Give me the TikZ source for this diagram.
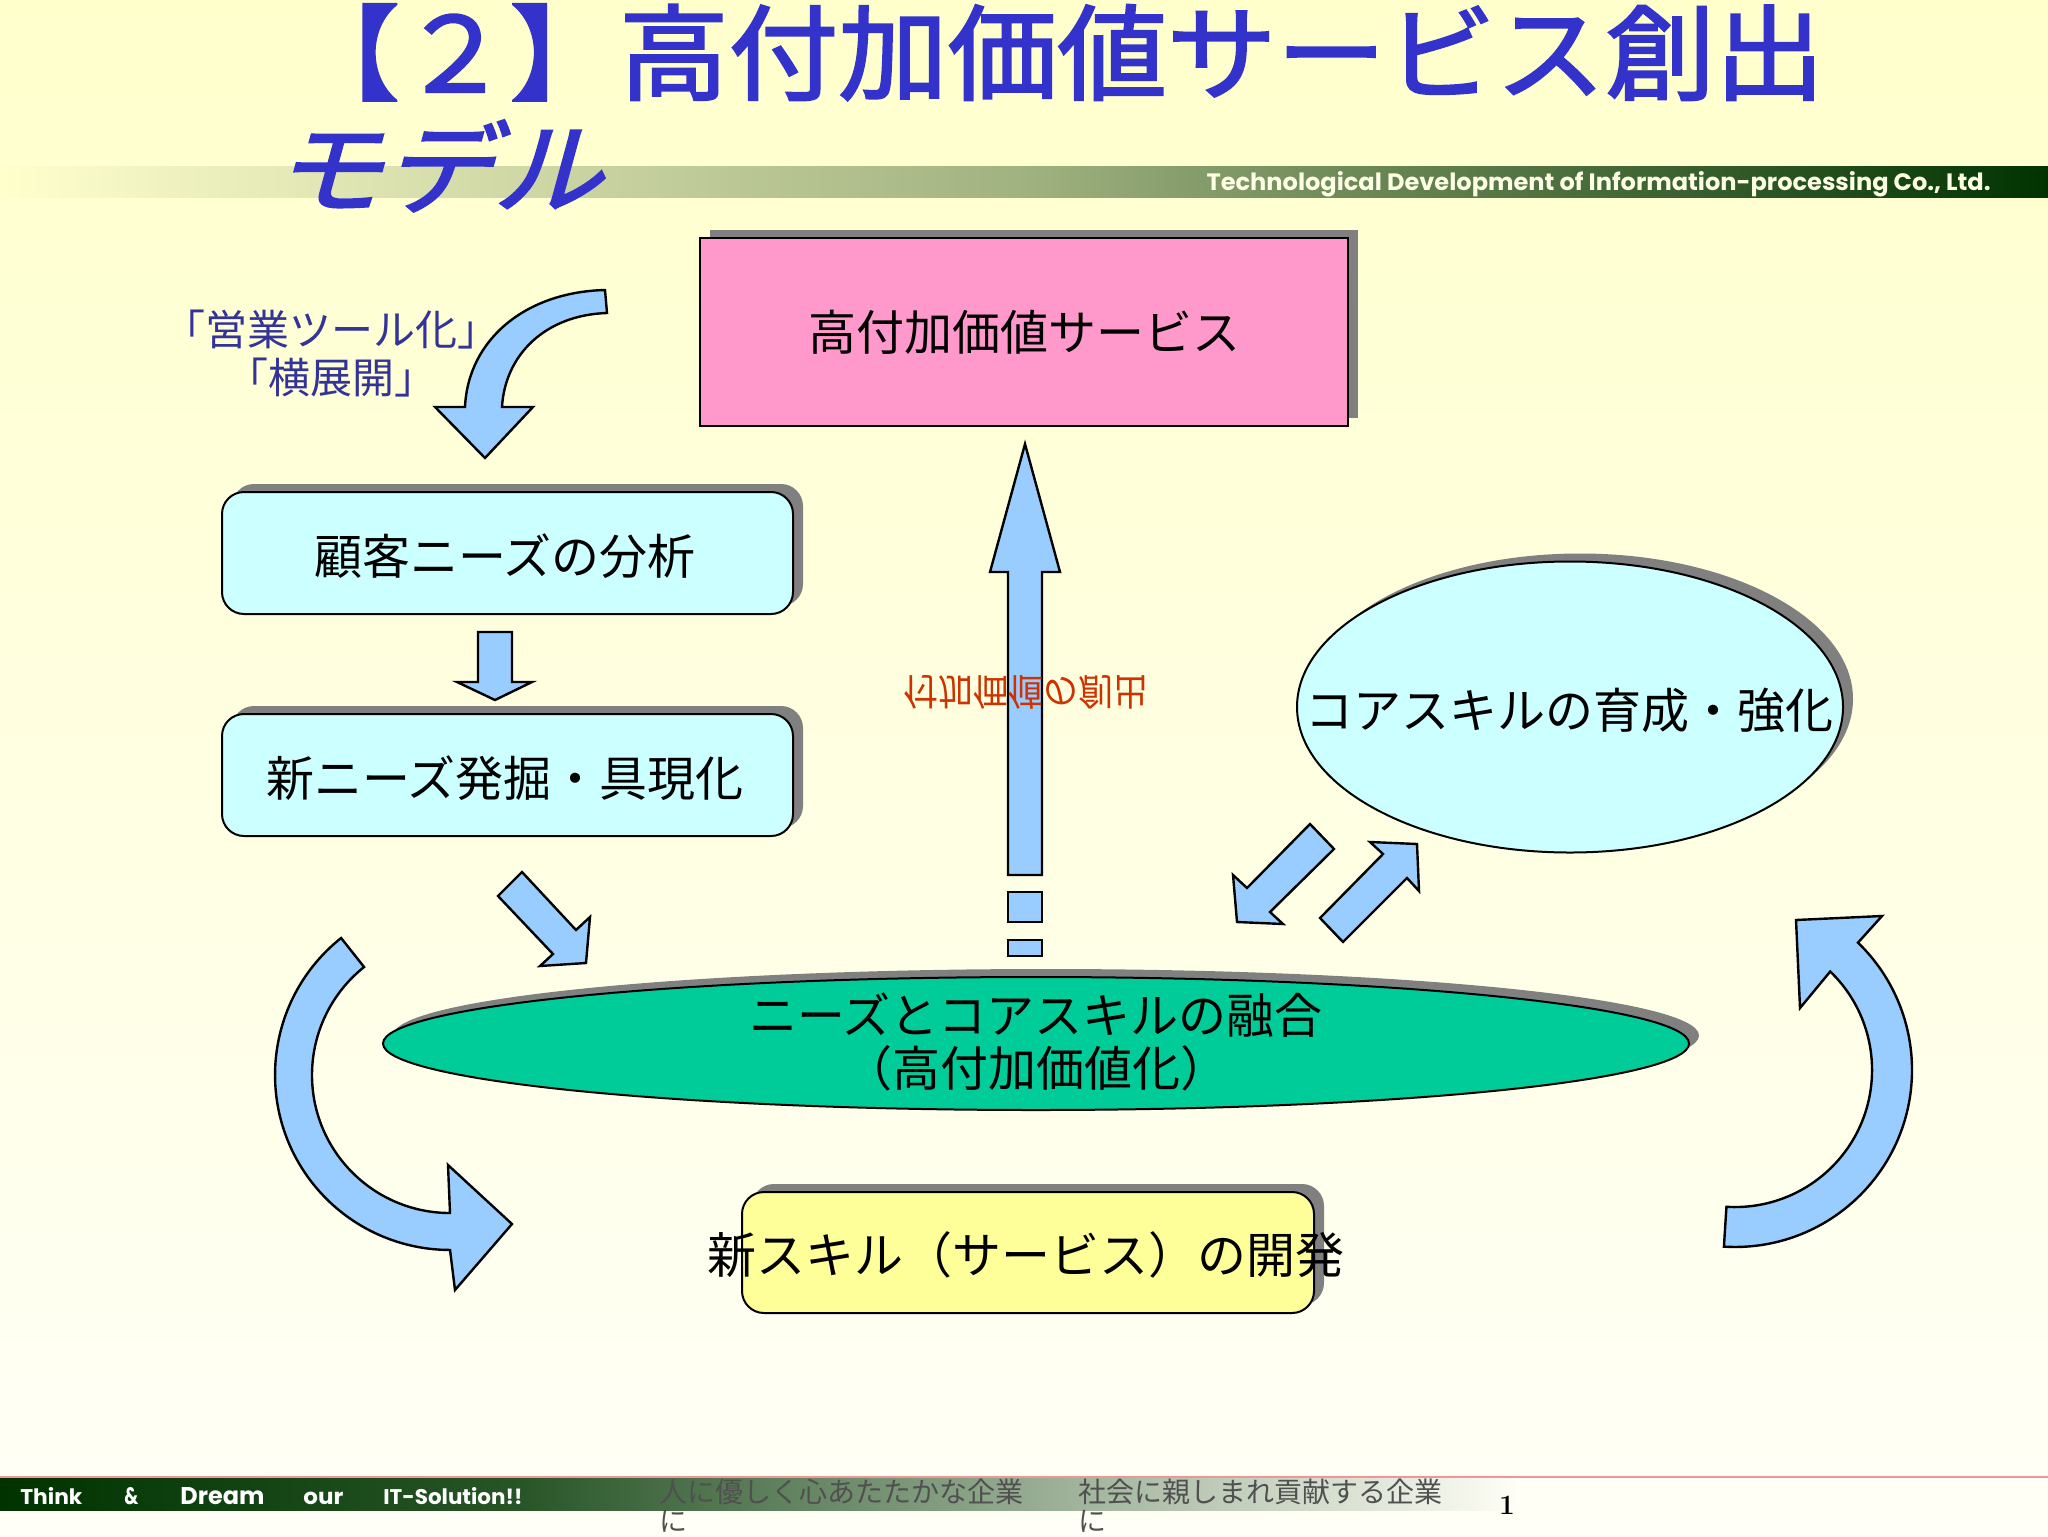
\documentclass[tikz,border=0pt]{standalone}
\usepackage{fontspec}
\usepackage{graphicx}
\usetikzlibrary{shadows,shapes.geometric}
\newfontfamily\jp{Noto Sans CJK JP}
\newfontfamily\jptitle[FakeBold=2]{Noto Sans CJK JP}
\newfontfamily\jptitlesl[FakeBold=2,FakeSlant=0.25]{Noto Sans CJK JP}
\newfontfamily\enf{Poppins}
\definecolor{bgtop}{RGB}{255,255,204}
\definecolor{bgbot}{RGB}{255,255,247}
\definecolor{titleblue}{RGB}{51,51,204}
\definecolor{labelblue}{RGB}{51,51,153}
\definecolor{redtext}{RGB}{204,51,0}
\definecolor{arrowblue}{RGB}{153,204,255}
\definecolor{cyanfill}{RGB}{204,255,255}
\definecolor{pinkfill}{RGB}{255,153,204}
\definecolor{yellowfill}{RGB}{255,255,153}
\definecolor{greenfill}{RGB}{0,204,153}
\definecolor{shadowgray}{RGB}{128,128,128}
\definecolor{darkgreen}{RGB}{0,51,0}
\definecolor{bandmid}{RGB}{160,178,128}
\definecolor{footmid}{RGB}{40,85,40}
\definecolor{bandtext}{RGB}{255,255,230}
\definecolor{pinkline}{RGB}{240,150,150}
\definecolor{footgray}{RGB}{80,80,80}
\tikzset{
  blockarrow/.style={fill=arrowblue, draw=black, line width=1.2pt, line join=miter, miter limit=10},
  shadowed/.style={drop shadow={shadow xshift=5pt, shadow yshift=4pt, opacity=1, fill=shadowgray}},
  shapebox/.style={draw=black, line width=1pt, inner sep=0pt, shadowed},
  boxtext/.style={font=\jp\fontsize{24pt}{30pt}\selectfont, text=black, inner sep=0pt},
  foot/.style={font=\enf\bfseries\fontsize{11pt}{11pt}\selectfont, text=white, inner sep=0pt, anchor=base west},
  motto/.style={anchor=base west, inner sep=0pt, text=footgray, font=\jp\fontsize{14pt}{14pt}\selectfont},
}
\begin{document}
\begin{tikzpicture}[x=0.5pt,y=-0.5pt]
\useasboundingbox (0,0) rectangle (2048,1536);
% background
\shade[top color=bgtop, bottom color=bgbot] (0,0) rectangle (2048,1536);
% top band
\shade[left color=bgtop, right color=bandmid] (0,166) rectangle (1026,197);
\shade[left color=bandmid, right color=darkgreen] (1024,166) rectangle (2048,197);
\node[anchor=base east, inner sep=0pt, text=bandtext] (company) at (1991,191)
  {\resizebox{392pt}{9.5pt}{\enf\bfseries\fontsize{13pt}{13pt}\selectfont Technological Development of Information-processing Co., Ltd.}};
% title
\node[anchor=base west, inner sep=0pt, text=titleblue] (title) at (290,92)
  {\resizebox{767pt}{44pt}{\jptitle\fontsize{50pt}{50pt}\selectfont 【２】高付加価値サービス創出}};
\node[anchor=base west, inner sep=0pt, text=titleblue] (title2) at (272,206)
  {\resizebox{165pt}{43pt}{\jptitlesl\fontsize{50pt}{50pt}\selectfont モデル}};

% shapes
\node[shapebox, fill=pinkfill, minimum width=324pt, minimum height=94pt] (svc) at (1024,332) {};
\node[boxtext] (svct) at (svc.center) {高付加価値サービス};

\node[shapebox, fill=cyanfill, rounded corners=11pt, minimum width=285.5pt, minimum height=61pt] (needs) at (507.5,553) {};
\node[boxtext] (needst) at (505,556) {顧客ニーズの分析};

\node[shapebox, fill=cyanfill, rounded corners=11pt, minimum width=285.5pt, minimum height=61pt] (newneeds) at (507.5,775) {};
\node[boxtext] (newneedst) at (505,778) {新ニーズ発掘・具現化};

\node[shapebox, ellipse, fill=cyanfill, minimum width=273pt, minimum height=145.5pt] (core) at (1570,707) {};
\node[boxtext] (coret) at (1569,710) {コアスキルの育成・強化};

\node[shapebox, ellipse, fill=greenfill, minimum width=653pt, minimum height=66.5pt] (fusion) at (1036,1043.5) {};
\node[boxtext, align=center, font=\jp\fontsize{24pt}{26.5pt}\selectfont] (fusiont) at (1036,1041.5) {ニーズとコアスキルの融合\\（高付加価値化）};

\node[shapebox, fill=yellowfill, rounded corners=11pt, minimum width=286pt, minimum height=60.5pt] (newskill) at (1028,1252.5) {};
\node[boxtext, font=\jp\fontsize{24.5pt}{30pt}\selectfont] (newskillt) at (1026,1255) {新スキル（サービス）の開発};

% labels
\node[inner sep=0pt, align=center, text=labelblue, font=\jp\fontsize{21pt}{24pt}\selectfont] (sales) at (331,354) {「営業ツール化」\\「横展開」};

% block arrows
\draw[blockarrow] (605,290) .. controls (525,292) and (468,340) .. (465,407) -- (435,407) -- (485,458) -- (533,407) -- (502,407) .. controls (505,355) and (545,315) .. (607,313) -- cycle;
\draw[blockarrow] (478,632) -- (512,632) -- (512,682) -- (532,682) -- (495,700) -- (457,682) -- (478,682) -- cycle;
\draw[blockarrow] (1008,875) -- (1008,572) -- (990,572) -- (1025,444) -- (1060,572) -- (1042,572) -- (1042,875) -- cycle;
\draw[blockarrow] (1008,892) rectangle (1042,922);
\draw[blockarrow] (1008,940) rectangle (1042,956);
\draw[blockarrow] (522,872) -- (576,930) -- (590,917) -- (586,963) -- (540,966) -- (553,954) -- (498,896) -- cycle;
\draw[blockarrow] (1310,824) -- (1334,849) -- (1270,912) -- (1283,924) -- (1237,922) -- (1233,875) -- (1247,888) -- cycle;
\draw[blockarrow] (1320,918) -- (1383,854) -- (1370,842) -- (1417,844) -- (1419,891) -- (1407,878) -- (1343,942) -- cycle;
\draw[blockarrow] (341.1,938) arc[start angle=231.5, end angle=90, radius=175] -- (455,1290) -- (512,1224) -- (448,1165) -- (450,1213) arc[start angle=90, end angle=231.5, radius=138] -- cycle;
\draw[blockarrow] (1723.9,1246.6) arc[start angle=93.6, end angle=-46, radius=177] -- (1882,916) -- (1796,920) -- (1800,1008) -- (1830.2,971.5) arc[start angle=-46, end angle=93.6, radius=137] -- cycle;
\node[inner sep=0pt, text=redtext, font=\jp\fontsize{17.5pt}{17.5pt}\selectfont] (create) at (1026,692) {\scalebox{1}[-1.05]{付加価値の創出}};

% footer
\draw[pinkline, line width=1pt] (0,1477) -- (2048,1477);
\shade[left color=darkgreen, right color=footmid] (0,1478) rectangle (522,1510);
\shade[left color=footmid, right color=bgbot] (520,1478) rectangle (1520,1510);
\node[foot] (w1) at (20,1504) {\resizebox{31pt}{8.5pt}{Think}};
\node[foot] (w2) at (124,1504) {\resizebox{7pt}{8.5pt}{\&}};
\node[foot] (w3) at (180,1504) {\resizebox{42pt}{8.5pt}{Dream}};
\node[foot] (w4) at (303,1504) {\resizebox{20pt}{6.2pt}{our}};
\node[foot] (w5) at (383,1504) {\resizebox{69.5pt}{8.5pt}{IT-Solution!!}};
\node[motto] (motto1) at (659,1502) {人に優しく心あたたかな企業};
\node[motto] (motto1b) at (659,1531) {に};
\node[motto] (motto2) at (1078,1502) {社会に親しまれ貢献する企業};
\node[motto] (motto2b) at (1078,1531) {に};
\node[anchor=base, inner sep=0pt, font=\bfseries\fontsize{14pt}{14pt}\selectfont] (pagenum) at (1507,1514) {1};
\end{tikzpicture}
\end{document}
